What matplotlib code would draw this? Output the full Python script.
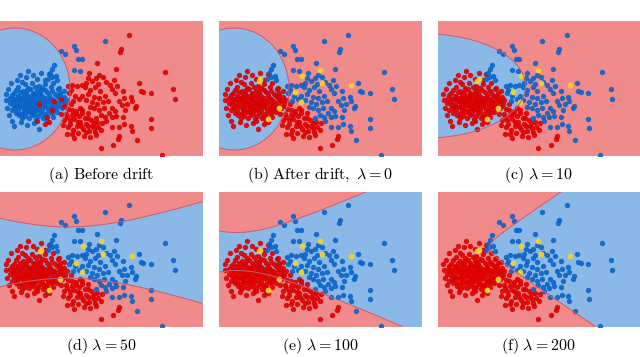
import numpy as np
import matplotlib
matplotlib.use('Agg')
import matplotlib.pyplot as plt

plt.rcParams['mathtext.fontset'] = 'cm'

# ---------------- data (panel units: x 0..101.25, y 0..67.5) ----------------
# dense cluster: blue before drift, red after drift
cluster_xy = [
    (12.3,35.8),(15.8,36.4),(19.4,35.2),(22.6,36.1),(9.2,34.6),(13.9,34.1),(17.6,34.7),(21.2,33.9),(25.3,34.5),
    (7.8,33.2),(11.4,32.7),(15.1,33.4),(18.7,32.6),(22.4,33.1),(26.1,32.4),(28.9,33.6),
    (6.9,31.5),(10.2,31.9),(13.1,31.2),(16.4,31.7),(20.1,31.3),(23.6,31.8),(27.4,31.1),(30.2,31.6),
    (5.8,30.4),(8.9,30.1),(12.2,30.6),(14.6,29.9),(18.1,30.3),(21.2,29.8),(24.7,30.5),(28.4,30.1),
    (5.2,29.0),(8.1,28.7),(11.1,29.2),(13.6,28.6),(16.2,29.1),(19.6,28.5),(22.7,29.0),(26.2,28.4),(29.4,28.9),
    (6.4,27.7),(9.6,27.4),(12.6,27.9),(15.1,27.2),(17.6,27.8),(20.6,27.3),(24.1,27.7),(27.1,27.1),(30.6,27.5),
    (4.8,26.5),(7.9,26.2),(11.2,26.8),(14.1,26.1),(16.6,26.6),(19.1,26.0),(22.2,26.5),(25.6,26.2),(28.6,26.7),
    (6.6,25.3),(9.4,25.0),(12.4,25.6),(15.6,24.9),(18.1,25.4),(21.1,24.8),(23.6,25.5),(27.1,24.9),(30.1,25.2),
    (7.6,24.0),(10.6,24.4),(13.4,23.8),(16.6,24.2),(19.6,23.7),(22.6,24.3),(25.6,23.9),(28.2,24.2),
    (5.9,22.8),(9.1,22.5),(12.1,23.0),(15.1,22.4),(18.1,22.9),(21.1,22.3),(24.1,22.8),(26.6,22.2),
    (7.9,21.6),(11.1,21.2),(14.1,21.8),(17.1,21.1),(20.1,21.5),(23.1,21.0),(25.4,21.7),
    (9.6,20.3),(12.6,19.9),(16.1,20.5),(19.1,19.8),(22.1,20.2),
    (11.1,18.9),(14.6,19.2),(18.1,18.6),(21.6,19.0),
    (10.5,28.2),(13.0,26.9),(15.8,28.4),(18.6,27.0),(21.6,27.9),(11.8,24.6),(14.6,25.3),(17.3,23.4),
    (20.4,24.9),(9.3,29.6),(16.9,30.8),(19.9,32.4),(13.6,32.9),(22.9,26.8),(8.4,24.9),(15.4,22.1),
    (19.0,29.9),(12.0,22.2),(24.8,29.2),(6.9,28.3),
    (4.1,33.3),(5.6,36.6),(8.6,38.1),(13.1,39.6),(14.2,42.7),(11.2,36.9),(3.1,28.1),(3.6,24.2),
    (4.6,20.6),(6.1,17.6),(7.2,15.2),(10.6,17.1),(13.6,15.6),(19.5,13.5),(17.1,16.6),(23.3,17.6),
    (26.4,19.6),(28.3,21.9),(31.2,23.8),(31.6,27.6),(29.4,34.2),(26.6,36.7),(22.6,38.2),(18.6,38.7),
    (2.8,31.2),(16.3,40.4),(10.2,40.3),(24.4,40.9),(20.5,41.6),
    (29.8,30.2),(32.2,29.5),(32.6,25.8),(31.9,32.5),(33.4,27.9),
]
# lower lobe: red before and after drift
lobe_xy = [
    (32.0,25.0),(34.0,23.5),(35.5,26.0),(33.0,21.0),(36.0,20.5),(38.0,22.5),(37.0,18.5),(39.5,20.0),
    (41.0,23.0),(40.0,17.0),(42.5,19.0),(44.0,21.5),(43.0,16.0),(45.5,18.0),(46.0,15.0),(48.5,17.0),
    (49.0,14.5),(51.0,16.5),(35.0,16.0),(38.5,15.0),(41.5,13.5),(44.5,12.5),(47.5,12.0),(50.5,13.0),
    (39.0,11.5),(36.5,13.0),(34.0,14.5),(42.0,10.0),(45.0,9.5),(48.0,10.5),(32.0,18.0),(30.5,21.0),
    (33.5,11.0),(37.0,9.0),
    (33.5,19.5),(35.8,22.8),(38.8,17.2),(41.2,21.5),(43.8,18.8),(46.8,16.5),(36.2,11.2),(40.5,14.8),
    (44.0,14.8),(47.2,14.0),(42.8,12.0),(37.8,20.8),(34.8,18.0),(39.8,23.8),(31.5,15.5),
    (19.5,26.0),(18.7,17.7),(23.7,19.7),(25.8,23.0),(27.0,27.7),(30.3,28.5),(24.5,16.8),(22.3,16.0),
    (50.3,4.0),(56.7,5.7),(59.0,8.5),(59.5,9.8),
]
# upper-left arm: blue before and after drift
arm_xy = [
    (52.3,57.3),(37.0,55.2),(38.2,53.0),(30.5,52.3),(32.5,51.0),(39.2,48.5),(40.8,48.5),(27.0,45.7),
    (26.2,43.5),(25.0,41.3),(37.0,43.0),(25.8,39.7),(27.8,40.2),(28.7,38.0),(40.2,42.7),(24.2,38.5),
]
# scattered cloud: red before drift, blue after drift
cloud_xy = [
    (64.5,60.7),(60.7,53.5),(60.0,51.8),(48.7,46.3),(44.5,41.3),(44.2,39.0),(49.5,40.7),(57.8,43.5),
    (82.3,41.8),(69.5,36.3),(70.3,32.3),(71.5,31.8),(75.3,31.3),(86.5,33.5),(87.3,28.5),(57.0,38.0),
    (52.8,36.8),(48.8,36.0),(46.2,37.7),(43.2,36.3),(40.8,35.7),(38.7,35.2),(36.2,35.7),(34.0,34.8),
    (35.3,33.0),(42.5,34.3),(44.8,33.0),(47.5,34.3),(49.8,32.3),(56.2,33.5),(57.5,31.3),(61.5,32.7),
    (65.3,29.7),(52.5,30.2),(49.5,29.0),(47.0,29.7),(44.2,31.0),(41.2,30.2),(39.5,28.5),(42.8,28.0),
    (45.8,26.8),(48.7,26.0),(51.5,26.8),(54.2,27.3),(59.5,27.7),(62.0,29.0),(60.8,25.7),(67.5,24.0),
    (68.2,25.2),(49.5,23.0),(52.0,24.0),(47.0,24.0),(44.8,24.7),(56.2,24.0),(57.5,22.3),(54.5,21.3),
    (55.8,19.3),(58.2,20.2),(52.5,19.7),(50.3,20.7),(62.5,23.0),(61.5,19.7),(75.3,18.5),(75.7,14.0),
    (56.2,14.7),(59.5,14.7),(62.0,16.0),(65.3,15.2),(65.8,12.7),(68.7,8.0),(81.2,0.3),(37.3,30.2),
    (36.5,27.7),(34.5,31.3),(47.8,39.0),(51.5,39.7),(54.8,35.7),(58.7,35.2),(63.7,26.0),(65.8,27.3),
    (53.2,17.7),(47.8,19.0),
]
# highlighted samples after drift
yellow_xy = [
    (19.8,37.7),(20.5,38.3),(41.5,40.2),(50.3,43.0),(51.7,36.3),(66.2,35.5),(37.8,31.8),(41.2,27.2),
    (30.0,24.0),(24.5,18.5),
]

# decision regions (blue where field < 0)
ellipse_before = [7.5, 33.5, 27.5, 30.5]        # cx, cy, rx, ry
ellipse_lam10 = [-6.0, 35.0, 50.0, 26.0]
band_lam50 = [37.0, 0.1087, -7.48, 292.0, -1e9]  # yc, a, b, c, xmin
band_lam100 = [37.5, 0.1923, -3.437, 106.0, -1e9]
band_lam200 = [39.5, 0.457, -18.45, 170.9, 20.0]

captions = [r'$\mathrm{(a)\ Before\ drift}$',
            r'$\mathrm{(b)\ After\ drift,}\ \lambda=0$',
            r'$\mathrm{(c)}\ \lambda=10$',
            r'$\mathrm{(d)}\ \lambda=50$',
            r'$\mathrm{(e)}\ \lambda=100$',
            r'$\mathrm{(f)}\ \lambda=200$']

# ---------------- styling ----------------
RED_BG = '#F18B8B'
BLUE_BG = '#8AB9E8'
RED_PT = '#DC0000'
BLUE_PT = '#0A64C8'
YEL_PT = '#F2D22E'
LINE_C = '#C06078'

W, H = 101.25, 67.5
gx = np.linspace(0, W, 500)
gy = np.linspace(0, H, 340)
GX, GY = np.meshgrid(gx, gy)


def ellipse_field(p):
    cx, cy, rx, ry = p
    return ((GX - cx) / rx) ** 2 + ((GY - cy) / ry) ** 2 - 1.0


def band_field(p):
    yc, a, b, c, xmin = p
    f = (GY - yc) ** 2 - (a * GX ** 2 + b * GX + c)
    return np.where(GX < xmin, np.abs(f) + 1.0, f)


fields = [ellipse_field(ellipse_before), ellipse_field(ellipse_before),
          ellipse_field(ellipse_lam10), band_field(band_lam50),
          band_field(band_lam100), band_field(band_lam200)]

fig = plt.figure(figsize=(6.4, 3.57), dpi=100)
pw, ph = 202.5 / 640, 135 / 357
lefts = [0.0, 219 / 640, 437.5 / 640]
bottoms = [1 - 156 / 357, 1 - 326.5 / 357]
cap_y = [1 - 175 / 357, 1 - 345.5 / 357]

cl = np.array(cluster_xy); lb = np.array(lobe_xy)
ar = np.array(arm_xy); cd = np.array(cloud_xy); yl = np.array(yellow_xy)
S = 15
AL = 0.9

for i in range(6):
    r, c = divmod(i, 3)
    ax = fig.add_axes([lefts[c], bottoms[r], pw, ph])
    F = fields[i]
    ax.contourf(GX, GY, F, levels=[F.min() - 1, 0, F.max() + 1],
                colors=[BLUE_BG, RED_BG])
    ax.contour(GX, GY, F, levels=[0], colors=[LINE_C], linewidths=0.7)
    if i == 0:
        for pts in (cl, ar):
            ax.scatter(pts[:, 0], pts[:, 1], s=S, c=BLUE_PT, alpha=AL, linewidths=0)
        for pts in (lb, cd):
            ax.scatter(pts[:, 0], pts[:, 1], s=S, c=RED_PT, alpha=AL, linewidths=0)
    else:
        for pts in (cl, lb):
            ax.scatter(pts[:, 0], pts[:, 1], s=S, c=RED_PT, alpha=AL, linewidths=0)
        for pts in (ar, cd):
            ax.scatter(pts[:, 0], pts[:, 1], s=S, c=BLUE_PT, alpha=AL, linewidths=0)
        ax.scatter(yl[:, 0], yl[:, 1], s=S + 2, c=YEL_PT, alpha=0.95, linewidths=0)
    ax.set_xlim(0, W)
    ax.set_ylim(0, H)
    ax.set_axis_off()
    fig.text(lefts[c] + pw / 2, cap_y[r], captions[i], ha='center', va='center',
             fontsize=11.5)

fig.savefig('out.png', dpi=100)
